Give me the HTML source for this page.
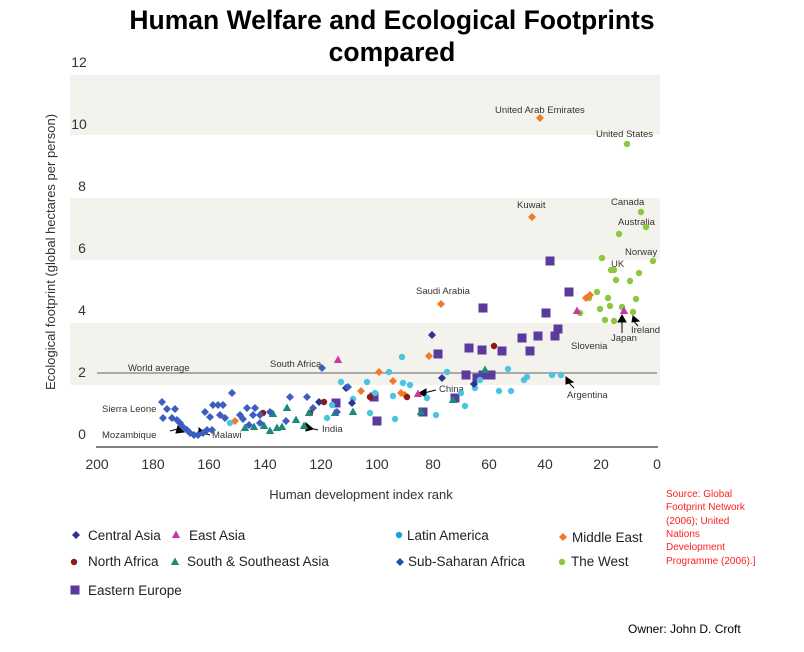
<!DOCTYPE html>
<html><head><meta charset="utf-8"><style>
body{margin:0;background:#fff;width:804px;height:652px;overflow:hidden}
svg{display:block;font-family:"Liberation Sans",sans-serif}
</style></head><body>
<svg width="804" height="652" viewBox="0 0 804 652">
<defs>
<path id="d" d="M0,-4 L4,0 0,4 -4,0Z"/>
<path id="t" d="M0,-4.5 L4.2,3 -4.2,3Z"/>
<rect id="s" x="-4.5" y="-4.5" width="9" height="9"/>
<circle id="c" r="3.2"/>
</defs>
<text x="392" y="29" font-size="26.5" font-weight="bold" text-anchor="middle" fill="#000">Human Welfare and Ecological Footprints</text>
<text x="392" y="61" font-size="26.5" font-weight="bold" text-anchor="middle" fill="#000">compared</text>
<g fill="#f3f2ed">
<rect x="70" y="75" width="590" height="60"/>
<rect x="70" y="198" width="590" height="62"/>
<rect x="70" y="323" width="590" height="62"/>
</g>
<line x1="97" y1="373" x2="657" y2="373" stroke="#aaa" stroke-width="2"/>
<line x1="96" y1="447" x2="658" y2="447" stroke="#555" stroke-width="1.5"/>
<g font-size="14" fill="#333" text-anchor="middle">
<text x="79" y="67">12</text><text x="79" y="129">10</text><text x="82" y="191">8</text><text x="82" y="253">6</text><text x="82" y="315">4</text><text x="82" y="377">2</text><text x="82" y="439">0</text>
<text x="97" y="469">200</text><text x="153" y="469">180</text><text x="209" y="469">160</text><text x="265" y="469">140</text><text x="321" y="469">120</text><text x="377" y="469">100</text><text x="433" y="469">80</text><text x="489" y="469">60</text><text x="545" y="469">40</text><text x="601" y="469">20</text><text x="657" y="469">0</text>
</g>
<text transform="translate(55,252) rotate(-90)" font-size="13" fill="#333" text-anchor="middle">Ecological footprint (global hectares per person)</text>
<text x="361" y="499" font-size="13" fill="#333" text-anchor="middle">Human development index rank</text>
<g font-size="9.5" fill="#333">
<text x="128" y="371">World average</text>
<text x="270" y="367">South Africa</text>
<text x="102" y="412">Sierra Leone</text>
<text x="102" y="438">Mozambique</text>
<text x="212" y="438">Malawi</text>
<text x="322" y="432">India</text>
<text x="439" y="392">China</text>
<text x="567" y="398">Argentina</text>
<text x="416" y="294">Saudi Arabia</text>
<text x="571" y="349">Slovenia</text>
<text x="611" y="341">Japan</text>
<text x="631" y="333">Ireland</text>
<text x="611" y="267">UK</text>
<text x="625" y="255">Norway</text>
<text x="618" y="225">Australia</text>
<text x="611" y="205">Canada</text>
<text x="517" y="208">Kuwait</text>
<text x="495" y="113">United Arab Emirates</text>
<text x="596" y="137">United States</text>
</g>
<g stroke="#000" stroke-width="1" fill="#000">
<path d="M170,431 L181,428" /><path d="M178,426 L184,432 176,433Z"/>
<path d="M203,433 L210,435"/><path d="M199,428 L206,434 199,436Z"/>
<path d="M310,428 L318,430"/><path d="M306,423 L313,429 306,431Z"/>
<path d="M424,393 L436,390"/><path d="M419,393 L426,389 426,397Z"/>
<path d="M566,380 L574,388"/><path d="M566,377 L573,382 566,384Z"/>
<path d="M622,320 L622,333"/><path d="M622,315 L626,322 618,322Z"/>
<path d="M633,320 L638,326"/><path d="M633,316 L639,321 632,322Z"/>
</g>
<g fill="#8dc63f">
<use href="#c" x="627" y="144"/><use href="#c" x="641" y="212"/><use href="#c" x="646" y="227"/><use href="#c" x="619" y="234"/><use href="#c" x="653" y="261"/><use href="#c" x="602" y="258"/><use href="#c" x="611" y="270"/><use href="#c" x="614" y="270"/><use href="#c" x="639" y="273"/><use href="#c" x="616" y="280"/><use href="#c" x="630" y="281"/><use href="#c" x="597" y="292"/><use href="#c" x="589" y="298"/><use href="#c" x="608" y="298"/><use href="#c" x="636" y="299"/><use href="#c" x="622" y="307"/><use href="#c" x="600" y="309"/><use href="#c" x="633" y="312"/><use href="#c" x="580" y="313"/><use href="#c" x="605" y="320"/><use href="#c" x="614" y="321"/><use href="#c" x="610" y="306"/>
</g>
<g fill="#f07a2a">
<use href="#d" x="540" y="118"/><use href="#d" x="532" y="217"/><use href="#d" x="441" y="304"/><use href="#d" x="590" y="295"/><use href="#d" x="586" y="298"/><use href="#d" x="429" y="356"/><use href="#d" x="379" y="372"/><use href="#d" x="393" y="381"/><use href="#d" x="361" y="391"/><use href="#d" x="405" y="395"/><use href="#d" x="235" y="421"/><use href="#d" x="401" y="393"/>
</g>
<g fill="#5b3a9e">
<use href="#s" x="550" y="261"/><use href="#s" x="569" y="292"/><use href="#s" x="483" y="308"/><use href="#s" x="546" y="313"/><use href="#s" x="558" y="329"/><use href="#s" x="538" y="336"/><use href="#s" x="522" y="338"/><use href="#s" x="482" y="350"/><use href="#s" x="555" y="336"/><use href="#s" x="469" y="348"/><use href="#s" x="502" y="351"/><use href="#s" x="438" y="354"/><use href="#s" x="530" y="351"/><use href="#s" x="466" y="375"/><use href="#s" x="491" y="375"/><use href="#s" x="477" y="378"/><use href="#s" x="455" y="398"/><use href="#s" x="423" y="412"/><use href="#s" x="374" y="397"/><use href="#s" x="377" y="421"/><use href="#s" x="336" y="403"/><use href="#s" x="483" y="375"/>
</g>
<g fill="#4cc4e0">
<use href="#c" x="402" y="357"/><use href="#c" x="447" y="372"/><use href="#c" x="410" y="385"/><use href="#c" x="427" y="398"/><use href="#c" x="461" y="393"/><use href="#c" x="475" y="388"/><use href="#c" x="508" y="369"/><use href="#c" x="552" y="375"/><use href="#c" x="561" y="375"/><use href="#c" x="499" y="391"/><use href="#c" x="511" y="391"/><use href="#c" x="436" y="415"/><use href="#c" x="465" y="406"/><use href="#c" x="480" y="380"/><use href="#c" x="524" y="380"/><use href="#c" x="527" y="377"/><use href="#c" x="341" y="382"/><use href="#c" x="375" y="393"/><use href="#c" x="370" y="413"/><use href="#c" x="332" y="405"/><use href="#c" x="327" y="418"/><use href="#c" x="367" y="382"/><use href="#c" x="389" y="372"/><use href="#c" x="393" y="396"/><use href="#c" x="403" y="383"/><use href="#c" x="353" y="399"/><use href="#c" x="230" y="423"/><use href="#c" x="395" y="419"/>
</g>
<g fill="#8b1a1a">
<use href="#c" x="494" y="346"/><use href="#c" x="407" y="397"/><use href="#c" x="370" y="397"/><use href="#c" x="324" y="402"/><use href="#c" x="310" y="413"/><use href="#c" x="263" y="413"/>
</g>
<g fill="#1a8a7a">
<use href="#t" x="485" y="370"/><use href="#t" x="453" y="400"/><use href="#t" x="421" y="412"/><use href="#t" x="273" y="414"/><use href="#t" x="287" y="408"/><use href="#t" x="296" y="420"/><use href="#t" x="309" y="413"/><use href="#t" x="304" y="426"/><use href="#t" x="282" y="427"/><use href="#t" x="270" y="431"/><use href="#t" x="264" y="426"/><use href="#t" x="277" y="428"/><use href="#t" x="335" y="413"/><use href="#t" x="353" y="412"/><use href="#t" x="254" y="427"/><use href="#t" x="245" y="428"/>
</g>
<g fill="#c8389e">
<use href="#t" x="338" y="360"/><use href="#t" x="577" y="311"/><use href="#t" x="624" y="311"/><use href="#t" x="418" y="394"/>
</g>
<g fill="#2e3192">
<use href="#d" x="432" y="335"/><use href="#d" x="474" y="384"/><use href="#d" x="346" y="388"/><use href="#d" x="352" y="403"/><use href="#d" x="319" y="402"/><use href="#d" x="442" y="378"/>
</g>
<g fill="#3b5fc0">
<use href="#d" x="322" y="368"/><use href="#d" x="162" y="402"/><use href="#d" x="167" y="409"/><use href="#d" x="175" y="409"/><use href="#d" x="163" y="418"/><use href="#d" x="172" y="418"/><use href="#d" x="177" y="420"/><use href="#d" x="180" y="423"/><use href="#d" x="183" y="427"/><use href="#d" x="187" y="430"/><use href="#d" x="190" y="433"/><use href="#d" x="194" y="435"/><use href="#d" x="198" y="435"/><use href="#d" x="203" y="433"/><use href="#d" x="207" y="430"/><use href="#d" x="212" y="430"/><use href="#d" x="205" y="412"/><use href="#d" x="210" y="417"/><use href="#d" x="213" y="405"/><use href="#d" x="218" y="405"/><use href="#d" x="223" y="405"/><use href="#d" x="220" y="415"/><use href="#d" x="225" y="418"/><use href="#d" x="232" y="393"/><use href="#d" x="240" y="415"/><use href="#d" x="243" y="419"/><use href="#d" x="247" y="408"/><use href="#d" x="249" y="425"/><use href="#d" x="253" y="415"/><use href="#d" x="255" y="408"/><use href="#d" x="260" y="415"/><use href="#d" x="260" y="423"/><use href="#d" x="270" y="412"/><use href="#d" x="290" y="397"/><use href="#d" x="307" y="397"/><use href="#d" x="313" y="408"/><use href="#d" x="348" y="387"/><use href="#d" x="337" y="412"/><use href="#d" x="286" y="421"/>
</g>
<g font-size="13.5" fill="#222">
<use href="#d" x="76" y="535" fill="#2e3192"/><text x="88" y="540">Central Asia</text>
<use href="#t" x="176" y="535" fill="#c8389e"/><text x="189" y="540">East Asia</text>
<use href="#c" x="399" y="535" fill="#1aa0d8"/><text x="407" y="540">Latin America</text>
<use href="#d" x="563" y="537" fill="#f07a2a"/><text x="572" y="542">Middle East</text>
<use href="#c" x="74" y="562" fill="#8b1a1a"/><text x="88" y="566">North Africa</text>
<use href="#t" x="175" y="562" fill="#1a8a7a"/><text x="187" y="566">South &amp; Southeast Asia</text>
<use href="#d" x="400" y="562" fill="#2050b0"/><text x="408" y="566">Sub-Saharan Africa</text>
<use href="#c" x="562" y="562" fill="#8dc63f"/><text x="571" y="566">The West</text>
<use href="#s" x="75" y="590" fill="#5b3a9e"/><text x="88" y="595">Eastern Europe</text>
</g>
<g font-size="10" fill="#ff2020">
<text x="666" y="497">Source: Global</text>
<text x="666" y="510">Footprint Network</text>
<text x="666" y="524">(2006); United</text>
<text x="666" y="537">Nations</text>
<text x="666" y="550">Development</text>
<text x="666" y="564">Programme (2006).]</text>
</g>
<text x="628" y="633" font-size="12" fill="#000">Owner: John D. Croft</text>
</svg>
</body></html>
